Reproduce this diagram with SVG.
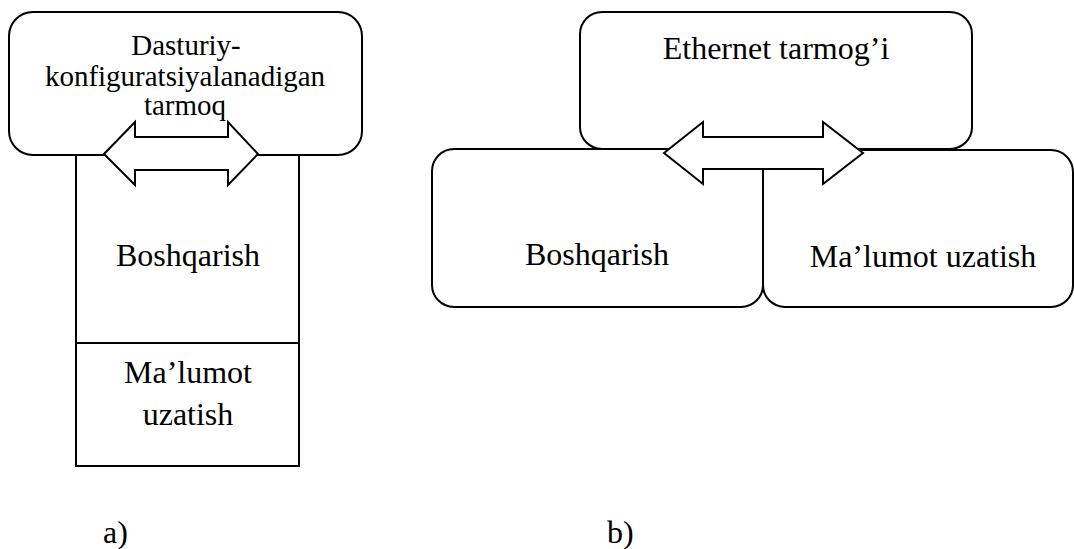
<svg xmlns="http://www.w3.org/2000/svg" width="1074" height="549" viewBox="0 0 1074 549">
<style>
.box{fill:#fff;stroke:#000;stroke-width:2}
.arrow{fill:#fff;stroke:#000;stroke-width:2;stroke-linejoin:miter}
text{font-family:'Liberation Serif','Tinos','DejaVu Serif',serif;fill:#000}
.t{font-size:32px;text-anchor:middle}
.ts{font-size:29px}
.lbl{font-size:32px}
</style>
<rect width="1074" height="549" fill="#fff"/>
<g id="a-sdn">
<rect class="box" x="9" y="12" width="353" height="143" rx="24" ry="24"/>
</g>
<g id="a-stack">
<rect class="box" x="76" y="155" width="223" height="311"/>
<line x1="76" y1="343" x2="299" y2="343" stroke="#000" stroke-width="2"/>
</g>
<g id="b-ethernet">
<rect class="box" x="580" y="12" width="392" height="137" rx="22" ry="22"/>
</g>
<g id="b-boshqarish">
<rect class="box" x="432" y="149" width="331" height="158" rx="22" ry="22"/>
</g>
<g id="b-malumot">
<rect class="box" x="763" y="150" width="310" height="157" rx="22" ry="22"/>
</g>
<g id="connectors">
<polygon class="arrow" points="104,154 135,122 135,137 228,137 228,122 258,154 228,185 228,170 135,170 135,185"/>
<polygon class="arrow" points="664,153 703,122 703,137 823,137 823,122 863,153 823,184 823,169 703,169 703,184"/>
</g>
<g id="texts">
<text class="t ts" x="186" y="55" font-family="Liberation Serif, serif">Dasturiy-</text>
<text class="t ts" x="185" y="86">konfiguratsiyalanadigan</text>
<text class="t ts" x="185" y="115">tarmoq</text>
<text class="t" x="188" y="266">Boshqarish</text>
<text class="t" x="188" y="383">Ma’lumot</text>
<text class="t" x="188" y="425">uzatish</text>
<text class="t" x="776" y="59">Ethernet tarmog’i</text>
<text class="t" x="597" y="265">Boshqarish</text>
<text class="t" x="923" y="267">Ma’lumot uzatish</text>
<text class="lbl" x="103" y="543">a)</text>
<text class="lbl" x="607" y="543">b)</text>
</g>
</svg>
